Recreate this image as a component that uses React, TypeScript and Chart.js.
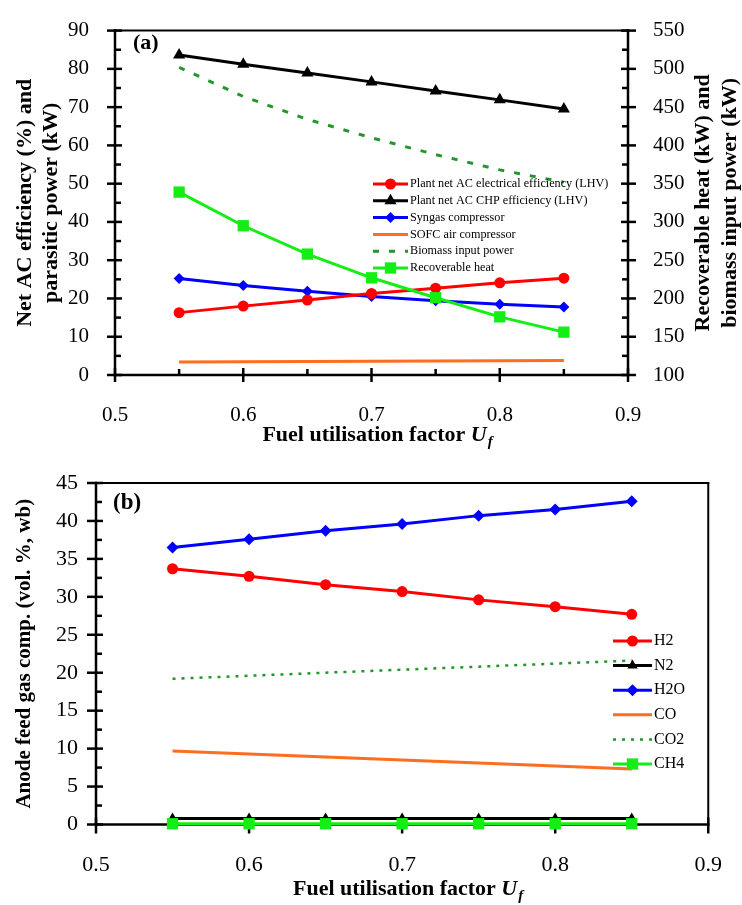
import React, { useEffect, useRef } from 'react';
import { Chart, registerables } from 'chart.js';

Chart.register(...registerables);

// ---------------- data ----------------
const fuelUtilisation = [0.55, 0.6, 0.65, 0.7, 0.75, 0.8, 0.85];

// panel (a) – left axis
const elecEfficiency = [16.3, 18.0, 19.6, 21.3, 22.7, 24.1, 25.3];
const chpEfficiency = [83.6, 81.2, 78.9, 76.6, 74.2, 71.9, 69.5];
const syngasCompressor = [25.2, 23.4, 21.9, 20.5, 19.4, 18.5, 17.8];
const sofcAirCompressor = [3.4, 3.45, 3.5, 3.6, 3.65, 3.7, 3.8];
// panel (a) – right axis
const biomassInputPower = [502, 464, 434, 410, 388, 368, 352];
const recoverableHeat = [339, 295, 258, 227, 201, 176, 156];

// panel (b)
const h2 = [33.7, 32.7, 31.6, 30.7, 29.6, 28.7, 27.7];
const n2 = [0.8, 0.8, 0.8, 0.8, 0.8, 0.8, 0.8];
const h2o = [36.5, 37.6, 38.7, 39.6, 40.7, 41.5, 42.6];
const co = [9.7, 9.3, 8.9, 8.5, 8.1, 7.7, 7.3];
const co2 = [19.2, 19.6, 20.0, 20.4, 20.8, 21.2, 21.6];
const ch4 = [0.1, 0.1, 0.1, 0.1, 0.1, 0.1, 0.1];

// tick labels
const xTickLabels = ['0.5', '0.6', '0.7', '0.8', '0.9'];
const leftTickLabelsA = ['0', '10', '20', '30', '40', '50', '60', '70', '80', '90'];
const rightTickLabelsA = ['100', '150', '200', '250', '300', '350', '400', '450', '500', '550'];
const leftTickLabelsB = ['0', '5', '10', '15', '20', '25', '30', '35', '40', '45'];

// ---------------- style ----------------
const FONT = "'Liberation Serif', 'Times New Roman', Times, serif";
const RED = '#ff0000';
const BLACK = '#000000';
const BLUE = '#0000ff';
const ORANGE = '#ff6d1f';
const DGREEN = '#22962a';
const LIME = '#14ee14';

const W = 742;
const HA = 452;
const HB = 453;
const AREA_A = { left: 115, right: 628, top: 21.7, bottom: 375 };
const AREA_B = { left: 96, right: 699, top: 31, bottom: 372.5 };

const pts = (ys: number[]) => fuelUtilisation.map((x, i) => ({ x, y: ys[i] }));
const pick = (labels: string[]) => (v: number) => labels.find((l) => Math.abs(parseFloat(l) - v) < 1e-6) ?? '';

type AxisSpec = { id: string; side: 'left' | 'right' | 'bottom'; out: number; inn: number; minorIn: number };

function framePlugin(widths: { left: number; right: number; top: number; bottom: number }, axes: AxisSpec[]) {
  return {
    id: 'frameTicks',
    beforeDatasetsDraw(chart: any) {
      const { ctx, chartArea: a } = chart;
      const line = (x1: number, y1: number, x2: number, y2: number, w: number) => {
        ctx.lineWidth = w;
        ctx.beginPath();
        ctx.moveTo(x1, y1);
        ctx.lineTo(x2, y2);
        ctx.stroke();
      };
      ctx.save();
      ctx.strokeStyle = '#000';
      ctx.lineCap = 'square';
      line(a.left, a.top, a.right, a.top, widths.top);
      line(a.right, a.top, a.right, a.bottom, widths.right);
      line(a.left, a.bottom, a.right, a.bottom, widths.bottom);
      line(a.left, a.top, a.left, a.bottom, widths.left);
      ctx.lineCap = 'butt';
      for (const ax of axes) {
        const s = chart.scales[ax.id];
        s.ticks.forEach((t: any) => {
          const p = s.getPixelForValue(t.value);
          const major = t.label !== '' && t.label != null;
          const inn = major ? ax.inn : ax.minorIn;
          const out = major ? ax.out : 0;
          if (ax.side === 'left') line(a.left - out, p, a.left + inn, p, 2.5);
          else if (ax.side === 'right') line(a.right - inn, p, a.right + out, p, 2.5);
          else line(p, a.bottom + out, p, a.bottom - inn, 2.5);
        });
      }
      ctx.restore();
    },
  };
}

function drawMarker(ctx: CanvasRenderingContext2D, style: string, x: number, y: number, r: number, color: string) {
  ctx.fillStyle = color;
  ctx.beginPath();
  if (style === 'circle') ctx.arc(x, y, r, 0, Math.PI * 2);
  else if (style === 'triangle') {
    ctx.moveTo(x, y - r);
    ctx.lineTo(x + r * 0.866, y + r * 0.5);
    ctx.lineTo(x - r * 0.866, y + r * 0.5);
    ctx.closePath();
  } else if (style === 'rectRot') {
    ctx.moveTo(x, y - r);
    ctx.lineTo(x + r, y);
    ctx.lineTo(x, y + r);
    ctx.lineTo(x - r, y);
    ctx.closePath();
  } else if (style === 'rect') {
    const s = r * Math.SQRT1_2;
    ctx.rect(x - s, y - s, 2 * s, 2 * s);
  }
  ctx.fill();
}

type LegendSpec = { x0: number; x1: number; textX: number; y0: number; dy: number; size: number };
function legendPlugin(spec: LegendSpec) {
  return {
    id: 'customLegend',
    afterDatasetsDraw(chart: any) {
      const { ctx } = chart;
      chart.data.datasets.forEach((ds: any, i: number) => {
        const y = spec.y0 + i * spec.dy;
        ctx.save();
        ctx.strokeStyle = ds.borderColor;
        ctx.lineWidth = ds.borderWidth;
        ctx.setLineDash(ds.borderDash || []);
        ctx.beginPath();
        ctx.moveTo(spec.x0, y);
        ctx.lineTo(spec.x1, y);
        ctx.stroke();
        ctx.setLineDash([]);
        if (ds.pointRadius > 0) drawMarker(ctx, ds.pointStyle, (spec.x0 + spec.x1) / 2, y, ds.pointRadius, ds.backgroundColor);
        ctx.fillStyle = '#000';
        ctx.font = `${spec.size}px ${FONT}`;
        ctx.textAlign = 'left';
        ctx.textBaseline = 'middle';
        ctx.fillText(ds.label, spec.textX, y);
        ctx.restore();
      });
    },
  };
}

function drawXTitle(ctx: CanvasRenderingContext2D, cx: number, baseline: number, size: number) {
  const main = 'Fuel utilisation factor ';
  ctx.font = `bold ${size}px ${FONT}`;
  const wMain = ctx.measureText(main).width;
  ctx.font = `italic bold ${size}px ${FONT}`;
  const wU = ctx.measureText('U').width;
  const subSize = Math.round(size * 0.7);
  ctx.font = `italic bold ${subSize}px ${FONT}`;
  const wf = ctx.measureText('f').width;
  let x = cx - (wMain + wU + wf + 1) / 2;
  ctx.fillStyle = '#000';
  ctx.textAlign = 'left';
  ctx.textBaseline = 'alphabetic';
  ctx.font = `bold ${size}px ${FONT}`;
  ctx.fillText(main, x, baseline);
  x += wMain;
  ctx.font = `italic bold ${size}px ${FONT}`;
  ctx.fillText('U', x, baseline);
  x += wU + 1;
  ctx.font = `italic bold ${subSize}px ${FONT}`;
  ctx.fillText('f', x, baseline + 5);
}

function textPluginA() {
  return {
    id: 'textsA',
    afterDraw(chart: any) {
      const { ctx, chartArea: a } = chart;
      ctx.save();
      ctx.fillStyle = '#000';
      ctx.font = `bold 22px ${FONT}`;
      ctx.textAlign = 'left';
      ctx.textBaseline = 'middle';
      ctx.fillText('(a)', 133, 43);
      const cy = (a.top + a.bottom) / 2;
      const rt = ['Recoverable heat (kW) and', 'biomass input power (kW)'];
      [703, 730].forEach((x, i) => {
        ctx.save();
        ctx.translate(x, cy);
        ctx.rotate(-Math.PI / 2);
        ctx.textAlign = 'center';
        ctx.textBaseline = 'middle';
        ctx.font = `bold 22px ${FONT}`;
        ctx.fillText(rt[i], 0, 0);
        ctx.restore();
      });
      drawXTitle(ctx, (a.left + a.right) / 2 + 6, 441, 22);
      ctx.restore();
    },
  };
}

function textPluginB() {
  return {
    id: 'textsB',
    afterDraw(chart: any) {
      const { ctx, chartArea: a } = chart;
      ctx.save();
      ctx.fillStyle = '#000';
      ctx.font = `bold 23px ${FONT}`;
      ctx.textAlign = 'left';
      ctx.textBaseline = 'middle';
      ctx.fillText('(b)', 113, 51);
      drawXTitle(ctx, (a.left + a.right) / 2 + 6, 443, 22);
      ctx.restore();
    },
  };
}

const tickFont = (size: number) => ({ family: FONT, size });

function configA(): any {
  return {
    type: 'line',
    data: {
      datasets: [
        { label: 'Plant net AC electrical efficiency (LHV)', data: pts(elecEfficiency), yAxisID: 'y', borderColor: RED, backgroundColor: RED, borderWidth: 3, pointStyle: 'circle', pointRadius: 5.5 },
        { label: 'Plant net AC CHP efficiency (LHV)', data: pts(chpEfficiency), yAxisID: 'y', borderColor: BLACK, backgroundColor: BLACK, borderWidth: 3, pointStyle: 'triangle', pointRadius: 7 },
        { label: 'Syngas compressor', data: pts(syngasCompressor), yAxisID: 'y', borderColor: BLUE, backgroundColor: BLUE, borderWidth: 3, pointStyle: 'rectRot', pointRadius: 5.5 },
        { label: 'SOFC air compressor', data: pts(sofcAirCompressor), yAxisID: 'y', borderColor: ORANGE, backgroundColor: ORANGE, borderWidth: 3, pointRadius: 0 },
        { label: 'Biomass input power', data: pts(biomassInputPower), yAxisID: 'y1', borderColor: DGREEN, backgroundColor: DGREEN, borderWidth: 3, borderDash: [6, 10], pointRadius: 0 },
        { label: 'Recoverable heat', data: pts(recoverableHeat), yAxisID: 'y1', borderColor: LIME, backgroundColor: LIME, borderWidth: 3, pointStyle: 'rect', pointRadius: 8, order: -1 },
      ].map((d) => ({ ...d, pointBorderWidth: 0, tension: 0, clip: false })),
    },
    options: {
      responsive: false,
      animation: false,
      devicePixelRatio: 1,
      events: [],
      layout: { padding: { top: AREA_A.top, left: 0, right: 0, bottom: 0 }, autoPadding: false },
      plugins: { legend: { display: false }, tooltip: { enabled: false } },
      scales: {
        x: {
          type: 'linear', min: 0.5, max: 0.9,
          grid: { display: false }, border: { display: false },
          ticks: { stepSize: 0.05, maxTicksLimit: 100, autoSkip: false, maxRotation: 0, padding: 20, color: '#000', font: tickFont(21), callback: pick(xTickLabels) },
          afterFit: (s: any) => { s.height = HA - AREA_A.bottom; },
        },
        y: {
          type: 'linear', position: 'left', min: 0, max: 90,
          grid: { display: false }, border: { display: false },
          ticks: { stepSize: 5, maxTicksLimit: 100, autoSkip: false, padding: 18, color: '#000', font: tickFont(21), callback: pick(leftTickLabelsA) },
          title: { display: true, text: ['Net AC efficiency (%) and', 'parasitic power (kW)'], color: '#000', font: { family: FONT, size: 22, weight: 'bold', lineHeight: 1.2 }, padding: { top: 12, bottom: 0 } },
          afterFit: (s: any) => { s.width = AREA_A.left; },
        },
        y1: {
          type: 'linear', position: 'right', min: 100, max: 550,
          grid: { display: false }, border: { display: false },
          ticks: { stepSize: 25, maxTicksLimit: 100, autoSkip: false, padding: 17, color: '#000', font: tickFont(21), callback: pick(rightTickLabelsA) },
          afterFit: (s: any) => { s.width = W - AREA_A.right; },
        },
      },
    },
    plugins: [
      framePlugin({ left: 2.5, right: 2.5, top: 2, bottom: 2.5 }, [
        { id: 'x', side: 'bottom', out: 7, inn: 7, minorIn: 6 },
        { id: 'y', side: 'left', out: 8, inn: 7, minorIn: 6 },
        { id: 'y1', side: 'right', out: 8, inn: 7, minorIn: 6 },
      ]),
      legendPlugin({ x0: 373, x1: 408, textX: 410, y0: 184, dy: 16.8, size: 12.2 }),
      textPluginA(),
    ],
  };
}

function configB(): any {
  return {
    type: 'line',
    data: {
      datasets: [
        { label: 'H2', data: pts(h2), borderColor: RED, backgroundColor: RED, borderWidth: 3, pointStyle: 'circle', pointRadius: 5.5 },
        { label: 'N2', data: pts(n2), borderColor: BLACK, backgroundColor: BLACK, borderWidth: 3, pointStyle: 'triangle', pointRadius: 6 },
        { label: 'H2O', data: pts(h2o), borderColor: BLUE, backgroundColor: BLUE, borderWidth: 3, pointStyle: 'rectRot', pointRadius: 6 },
        { label: 'CO', data: pts(co), borderColor: ORANGE, backgroundColor: ORANGE, borderWidth: 3, pointRadius: 0 },
        { label: 'CO2', data: pts(co2), borderColor: DGREEN, backgroundColor: DGREEN, borderWidth: 2.5, borderDash: [3, 6], pointRadius: 0 },
        { label: 'CH4', data: pts(ch4), borderColor: LIME, backgroundColor: LIME, borderWidth: 3, pointStyle: 'rect', pointRadius: 8, order: -1 },
      ].map((d) => ({ ...d, pointBorderWidth: 0, tension: 0, clip: false })),
    },
    options: {
      responsive: false,
      animation: false,
      devicePixelRatio: 1,
      events: [],
      layout: { padding: { top: AREA_B.top, left: 0, right: 0, bottom: 0 }, autoPadding: false },
      plugins: { legend: { display: false }, tooltip: { enabled: false } },
      scales: {
        x: {
          type: 'linear', min: 0.5, max: 0.9,
          grid: { display: false }, border: { display: false },
          ticks: { stepSize: 0.05, maxTicksLimit: 100, autoSkip: false, maxRotation: 0, padding: 20, color: '#000', font: tickFont(22), callback: pick(xTickLabels) },
          afterFit: (s: any) => { s.height = HB - AREA_B.bottom; },
        },
        y: {
          type: 'linear', position: 'left', min: 0, max: 45,
          grid: { display: false }, border: { display: false },
          ticks: { stepSize: 2.5, maxTicksLimit: 100, autoSkip: false, padding: 10, color: '#000', font: tickFont(22), callback: pick(leftTickLabelsB) },
          title: { display: true, text: 'Anode feed gas comp. (vol. %, wb)', color: '#000', font: { family: FONT, size: 21, weight: 'bold', lineHeight: 1.2 }, padding: { top: 12, bottom: 0 } },
          afterFit: (s: any) => { s.width = AREA_B.left; },
        },
      },
    },
    plugins: [
      framePlugin({ left: 2.5, right: 2, top: 2, bottom: 2.5 }, [
        { id: 'x', side: 'bottom', out: 9, inn: 7, minorIn: 6 },
        { id: 'y', side: 'left', out: 9, inn: 7, minorIn: 6 },
      ]),
      legendPlugin({ x0: 613, x1: 652, textX: 654, y0: 189, dy: 24.6, size: 16 }),
      textPluginB(),
    ],
  };
}

function ChartCanvas({ top, height, makeConfig }: { top: number; height: number; makeConfig: () => any }) {
  const ref = useRef<HTMLCanvasElement>(null);
  useEffect(() => {
    const chart = new Chart(ref.current as HTMLCanvasElement, makeConfig());
    return () => chart.destroy();
  }, []);
  return (
    <canvas
      ref={ref}
      width={W}
      height={height}
      style={{ position: 'absolute', left: 0, top, width: W, height, display: 'block' }}
    />
  );
}

export default function App() {
  return (
    <div style={{ position: 'fixed', left: 0, top: 0, width: W, height: 905, background: '#fff', overflow: 'hidden' }}>
      <ChartCanvas top={0} height={HA} makeConfig={configA} />
      <ChartCanvas top={HA} height={HB} makeConfig={configB} />
    </div>
  );
}
